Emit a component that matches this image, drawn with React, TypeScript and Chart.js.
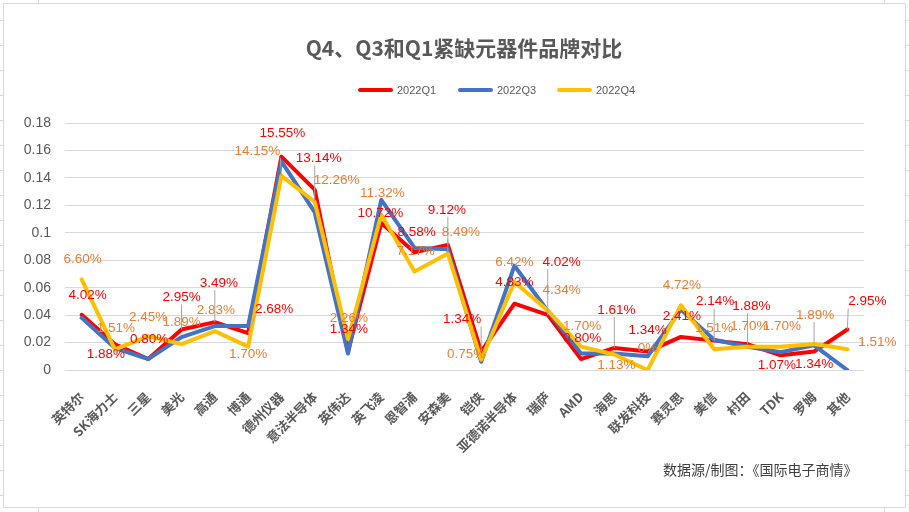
import { useEffect, useRef } from "react";
import { Chart, registerables } from "chart.js";

Chart.register(...registerables);

const categories = [
  "英特尔", "SK海力士", "三星", "美光", "高通", "博通", "德州仪器", "意法半导体",
  "英伟达", "英飞凌", "恩智浦", "安森美", "铠侠", "亚德诺半导体", "瑞萨", "AMD",
  "海思", "联发科技", "赛灵思", "美信", "村田", "TDK", "罗姆", "其他",
];

const q1Values = [
  0.0402, 0.0188, 0.008, 0.0295, 0.0349, 0.0268, 0.1555, 0.1314,
  0.0134, 0.1072, 0.0858, 0.0912, 0.0134, 0.0483, 0.0402, 0.008,
  0.0161, 0.0134, 0.0241, 0.0214, 0.0188, 0.0107, 0.0134, 0.0295,
];

const q3Values = [
  0.038, 0.016, 0.008, 0.024, 0.032, 0.032, 0.152, 0.115,
  0.012, 0.124, 0.089, 0.088, 0.006, 0.076, 0.043, 0.012,
  0.012, 0.01, 0.044, 0.022, 0.017, 0.013, 0.018, 0.0,
];

const q4Values = [
  0.066, 0.0151, 0.0245, 0.0189, 0.0283, 0.017, 0.1415, 0.1226,
  0.0226, 0.1132, 0.0717, 0.0849, 0.0075, 0.0642, 0.0434, 0.017,
  0.0113, 0, 0.0472, 0.0151, 0.017, 0.017, 0.0189, 0.0151,
];

const seriesNames = ["2022Q1", "2022Q3", "2022Q4"];
const yMin = 0;
const yMax = 0.18;
const yStep = 0.02;

const titleText = "Q4、Q3和Q1紧缺元器件品牌对比";
const footerText = "数据源/制图：《国际电子商情》";

// label placement (offset of label centre from its point), styling only
const q1LabelOffsets: [number, number][] = [
  [6, -20], [-9, 10], [1, -20], [0, -32], [4, -39], [26, -24], [1, -23], [4, -31],
  [1, -22], [-1, -10], [2, -20], [-1, -35], [-19, -32], [0, -21], [14, -53], [1, -21],
  [2, -38], [0, -21], [1, -21], [1, -39], [4, -38], [-4, 10], [0, 13], [20, -28],
];
const q1Leaders = [3, 4, 5, 7, 11, 12, 14, 16, 19, 20, 23];
const q4LabelOffsets: [number, number][] = [
  [1, -20], [1, -21], [0, -19], [0, -22], [1, -21], [0, 8], [-24, -25], [22, -21],
  [1, -21], [1, -21], [1, -20], [13, -21], [-15, -5], [0, -20], [14, -20], [1, -20],
  [2, 11], [0, -22], [1, -20], [0, -21], [2, -20], [1, -20], [1, -29], [30, -7],
];
const q4Leaders = [6, 7, 11, 22];

const COLORS = ["#FF0000", "#4472C4", "#FFC000"];
const GRAY = "#595959";

function fmt(v: number) {
  if (v === 0) return "0%";
  return (v * 100).toFixed(2) + "%";
}

const decorPlugin = {
  id: "decor",
  beforeDraw(chart: any) {
    const ctx = chart.ctx;
    const W = chart.width;
    const H = chart.height;
    ctx.save();
    ctx.fillStyle = "#FFFFFF";
    ctx.fillRect(0, 0, W, H);
    ctx.strokeStyle = "#D9D9D9";
    ctx.lineWidth = 1;
    ctx.beginPath();
    for (let y = 19.5; y < H - 4; y += 25.02) {
      const yy = Math.round(y) + 0.5;
      ctx.moveTo(0, yy);
      ctx.lineTo(3, yy);
      ctx.moveTo(906, yy);
      ctx.lineTo(W, yy);
    }
    [38.5, 884.5].forEach((x) => {
      ctx.moveTo(x, 0);
      ctx.lineTo(x, 3);
      ctx.moveTo(x, 508);
      ctx.lineTo(x, H);
    });
    ctx.stroke();
    ctx.strokeRect(3.5, 3.5, 902, 504);
    ctx.restore();
  },
  afterDatasetsDraw(chart: any) {
    const ctx = chart.ctx;
    ctx.save();
    ctx.font = "13.5px 'Liberation Sans', Arial, sans-serif";
    ctx.textAlign = "center";
    ctx.textBaseline = "middle";
    const sets = [
      { ds: 0, offsets: q1LabelOffsets, leaders: q1Leaders, color: "#FF0000" },
      { ds: 2, offsets: q4LabelOffsets, leaders: q4Leaders, color: "#ED7D31" },
    ];
    // leader lines first
    ctx.strokeStyle = "#A6A6A6";
    ctx.lineWidth = 1;
    sets.forEach(({ ds, offsets, leaders }) => {
      const meta = chart.getDatasetMeta(ds);
      const data = chart.data.datasets[ds].data;
      leaders.forEach((j: number) => {
        const pt = meta.data[j];
        const text = fmt(data[j]);
        const w = ctx.measureText(text).width;
        const h = 14;
        const cx = pt.x + offsets[j][0];
        const cy = pt.y + offsets[j][1];
        const ex = Math.min(Math.max(pt.x, cx - w / 2), cx + w / 2);
        const ey = Math.min(Math.max(pt.y, cy - h / 2), cy + h / 2);
        ctx.beginPath();
        ctx.moveTo(ex, ey);
        ctx.lineTo(pt.x, pt.y);
        ctx.stroke();
      });
    });
    sets.forEach(({ ds, offsets, color }) => {
      const meta = chart.getDatasetMeta(ds);
      const data = chart.data.datasets[ds].data;
      ctx.fillStyle = color;
      meta.data.forEach((pt: any, j: number) => {
        ctx.fillText(fmt(data[j]), pt.x + offsets[j][0], pt.y + offsets[j][1]);
      });
    });
    ctx.restore();
  },
  afterDraw(chart: any) {
    const ctx = chart.ctx;
    ctx.save();
    // title
    ctx.fillStyle = GRAY;
    ctx.font = "bold 21px 'Noto Sans CJK SC', sans-serif";
    ctx.textAlign = "center";
    ctx.textBaseline = "middle";
    ctx.fillText(titleText, 464, 48);
    // legend
    const legendX = [358, 458, 557];
    ctx.font = "11px 'Liberation Sans', Arial, sans-serif";
    ctx.textAlign = "left";
    seriesNames.forEach((name, i) => {
      const x = legendX[i];
      ctx.strokeStyle = COLORS[i];
      ctx.lineWidth = 4;
      ctx.lineCap = "round";
      ctx.beginPath();
      ctx.moveTo(x + 2, 90);
      ctx.lineTo(x + 33, 90);
      ctx.stroke();
      ctx.fillStyle = GRAY;
      ctx.fillText(name, x + 39, 90.5);
    });
    // footer
    ctx.font = "14px 'Noto Sans CJK SC', sans-serif";
    ctx.fillStyle = "#404040";
    ctx.fillText(footerText, 663, 470);
    ctx.restore();
  },
};

export default function App() {
  const ref = useRef<HTMLCanvasElement | null>(null);
  useEffect(() => {
    if (!ref.current) return;
    const datasets = [q1Values, q3Values, q4Values].map((vals, i) => ({
      label: seriesNames[i],
      data: vals,
      borderColor: COLORS[i],
      backgroundColor: COLORS[i],
      borderWidth: 4,
      pointRadius: 0,
      pointHoverRadius: 0,
      tension: 0,
      fill: false,
      borderJoinStyle: "round" as const,
      borderCapStyle: "round" as const,
      order: 2 - i,
    }));
    const chart = new Chart(ref.current, {
      type: "line",
      data: { labels: categories, datasets },
      options: {
        responsive: false,
        animation: false,
        devicePixelRatio: 1,
        layout: { padding: { top: 123, right: 45, left: 0, bottom: 0 } },
        plugins: {
          legend: { display: false },
          title: { display: false },
          tooltip: { enabled: false },
        },
        scales: {
          x: {
            type: "category",
            offset: true,
            grid: { display: false },
            border: { display: false },
            ticks: {
              autoSkip: false,
              maxRotation: 45,
              minRotation: 45,
              padding: 11,
              color: GRAY,
              font: { family: "'Noto Sans CJK SC', sans-serif", size: 13, weight: "bold" },
            },
            afterFit: (s: any) => {
              s.height = 142;
            },
          },
          y: {
            min: yMin,
            max: yMax,
            grid: { color: "#D9D9D9", lineWidth: 1, drawTicks: false },
            border: { display: false },
            ticks: {
              stepSize: yStep,
              padding: 14,
              color: GRAY,
              font: { family: "'Liberation Sans', Arial, sans-serif", size: 14 },
              callback: (v: any) => String(Number(Number(v).toFixed(2))),
            },
            afterFit: (s: any) => {
              s.width = 65;
            },
          },
        },
      },
      plugins: [decorPlugin],
    });
    return () => chart.destroy();
  }, []);
  return (
    <div style={{ position: "fixed", left: 0, top: 0, width: 909, height: 512 }}>
      <canvas ref={ref} width={909} height={512} style={{ display: "block" }} />
    </div>
  );
}
